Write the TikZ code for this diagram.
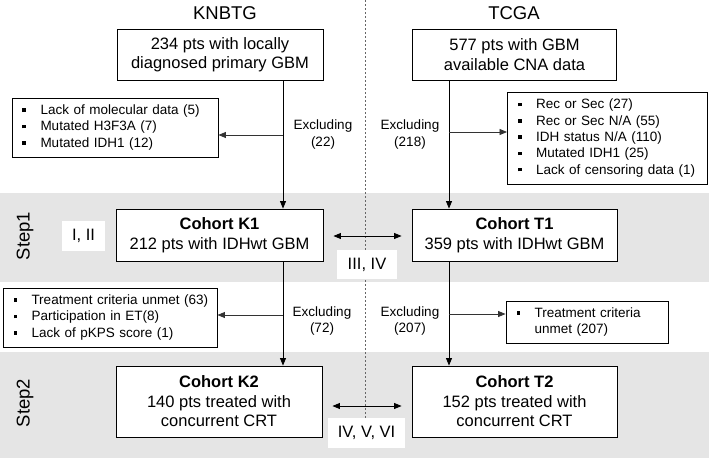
\documentclass[tikz,border=0pt]{standalone}
\usepackage{fontspec}
\setmainfont{Liberation Sans}
\usetikzlibrary{arrows.meta}
\newcommand{\sqbul}{\makebox[18pt][l]{\raisebox{2.6pt}{\rule{3.6pt}{3.6pt}}}}
\newcommand{\li}[1]{\hspace*{10.5pt}\sqbul #1}
\begin{document}
\begin{tikzpicture}[x=1pt,y=-1pt,
 mainbox/.style={draw, line width=0.9pt, fill=white, align=center, font=\fontsize{16.5}{19.5}\selectfont, inner sep=0pt},
 listbox/.style={draw, line width=0.9pt, fill=white, align=left, font=\fontsize{13.5}{16.3}\selectfont, inner xsep=0pt, inner ysep=0pt},
 exlabel/.style={align=center, font=\fontsize{13.5}{17}\selectfont, inner sep=0pt},
 titletext/.style={font=\fontsize{18.5}{22}\selectfont, inner sep=0pt},
 steplabel/.style={font=\fontsize{18.5}{22}\selectfont, rotate=90, inner sep=0pt},
 tag/.style={fill=white, font=\fontsize{16.5}{19.5}\selectfont, inner sep=0pt},
 conn/.style={line width=0.8pt, -{Triangle[length=7.5pt,width=6pt]}},
 branch/.style={line width=0.8pt, black!80, -{Triangle[length=7.5pt,width=6pt]}},
 dbl/.style={line width=0.8pt, {Triangle[length=7.5pt,width=6pt]}-{Triangle[length=7.5pt,width=6pt]}, shorten <=10pt, shorten >=10pt},
 band/.style={fill=black!10, draw=none},
 divider/.style={black!60, line width=0.6pt, dash pattern=on 2pt off 2pt}]

\useasboundingbox (0,0) rectangle (709,458);
\path[band] (0,193) rectangle (709,282);
\path[band] (0,352) rectangle (709,458);
\coordinate (dTop) at (365,0);
\coordinate (dBot) at (365,418);
\draw[divider] (dTop) -- (dBot);

% titles
\node[titletext] (tK) at (225,13) {KNBTG};
\node[titletext] (tT) at (514,13) {TCGA};

% step labels
\node[steplabel] (s1) at (25,236) {Step1};
\node[steplabel] (s2) at (25,403) {Step2};

% main boxes
\node[mainbox, minimum width=206pt, minimum height=51pt] (K0) at (220,54.5) {234 pts with locally\\diagnosed primary GBM};
\node[mainbox, minimum width=204pt, minimum height=51pt] (T0) at (514.5,54.5) {577 pts with GBM\\available CNA data};
\node[mainbox, minimum width=207pt, minimum height=52pt] (K1) at (219.5,235) {\textbf{Cohort K1}\\212 pts with IDHwt GBM};
\node[mainbox, minimum width=205pt, minimum height=52pt] (T1) at (514.5,235) {\textbf{Cohort T1}\\359 pts with IDHwt GBM};
\node[mainbox, minimum width=206pt, minimum height=71pt] (K2) at (219,401.5) {\textbf{Cohort K2}\\140 pts treated with\\concurrent CRT};
\node[mainbox, minimum width=205pt, minimum height=71pt] (T2) at (514.5,401.5) {\textbf{Cohort T2}\\152 pts treated with\\concurrent CRT};

% exclusion lists
\node[listbox, text width=206pt, minimum height=59pt] (xK0) at (115,127.5)
  {\li{Lack of molecular data (5)}\\\li{Mutated H3F3A (7)}\\\li{Mutated IDH1 (12)}};
\node[listbox, text width=200pt, minimum height=92pt] (xT0) at (607.5,138)
  {\li{Rec or Sec (27)}\\\li{Rec or Sec N/A (55)}\\\li{IDH status N/A (110)}\\\li{Mutated IDH1 (25)}\\\li{Lack of censoring data (1)}};
\node[listbox, text width=214pt, minimum height=59pt] (xK1) at (110,317.5)
  {\li{Treatment criteria unmet (63)}\\\li{Participation in ET(8)}\\\li{Lack of pKPS score (1)}};
\node[listbox, text width=162pt, minimum height=42pt] (xT1) at (587,322)
  {\li{Treatment criteria}\\\hspace*{28.5pt}unmet (207)};

% excluding labels
\node[exlabel] (eK0) at (323,134.5) {Excluding\\(22)};
\node[exlabel] (eT0) at (410,134.5) {Excluding\\(218)};
\node[exlabel] (eK1) at (322,321) {Excluding\\(72)};
\node[exlabel] (eT1) at (410,321) {Excluding\\(207)};

% vertical flow
\coordinate (vK) at (283,0);
\coordinate (vT) at (449,0);
\draw[conn] (K0.south -| vK) -- (K1.north -| vK);
\draw[conn] (T0.south -| vT) -- (T1.north -| vT);
\draw[conn] (K1.south -| vK) -- (K2.north -| vK);
\draw[conn] (T1.south -| vT) -- (T2.north -| vT);

% branches
\coordinate (bK0) at (283,135);
\coordinate (bT0) at (449,132);
\coordinate (bK1) at (283,315);
\coordinate (bT1) at (449,314);
\draw[branch] (bK0) -- (bK0 -| xK0.east);
\draw[branch] (bT0) -- (bT0 -| xT0.west);
\draw[branch] (bK1) -- (bK1 -| xK1.east);
\draw[branch] (bT1) -- (bT1 -| xT1.west);

% comparisons
\draw[dbl] ([yshift=-1pt]K1.east) -- ([yshift=-1pt]T1.west);
\draw[dbl] ([yshift=-4.5pt]K2.east) -- ([yshift=-4.5pt]T2.west);

% analysis tags
\node[tag, minimum width=43pt, minimum height=30pt] (r1) at (83.5,236) {I, II};
\node[tag, minimum width=60pt, minimum height=29pt] (r2) at (367,264.5) {III, IV};
\node[tag, minimum width=77pt, minimum height=30pt] (r3) at (366.5,433) {IV, V, VI};
\end{tikzpicture}
\end{document}
